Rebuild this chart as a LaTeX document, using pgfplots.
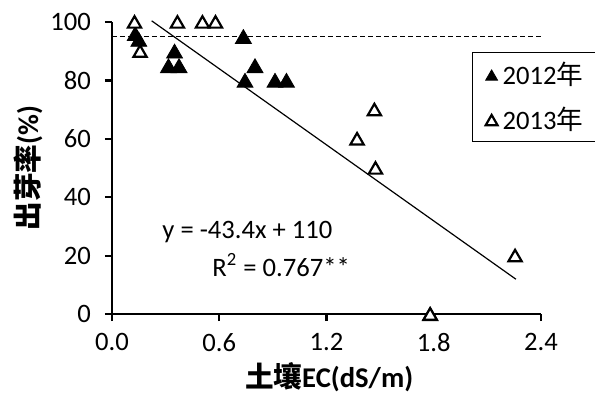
\documentclass[border=0pt]{standalone}
\usepackage{fontspec}
\setmainfont{Carlito}
\newfontfamily\cjk{Noto Sans CJK SC}
\usepackage{pgfplots}
\pgfplotsset{compat=1.18}
\newcommand{\fs}{\fontsize{13.3}{16}\selectfont}
\begin{document}
\begin{tikzpicture}
\begin{axis}[
  at={(0,0)}, anchor=south west,
  scale only axis, width=214.5pt, height=146pt,
  xmin=0, xmax=2.4, ymin=0, ymax=100,
  axis x line=bottom, axis y line=left,
  axis line style={-, line width=1.1pt},
  xtick={0,0.6,1.2,1.8,2.4}, xticklabels={0.0,0.6,1.2,1.8,2.4},
  ytick={0,20,40,60,80,100},
  tick align=outside, major tick length=3.5pt,
  tick style={line width=1.1pt, black},
  ticklabel style={font=\fs},
  yticklabel style={xshift=-3.5pt},
  xticklabel style={yshift=-2.5pt},
  /pgf/number format/assume math mode=true,
  clip=false,
  xlabel={{\cjk\bfseries 土壤}\textbf{EC(dS/m)}},
  ylabel={{\cjk\bfseries 出芽率}\textbf{(\%)}},
  xlabel style={at={(axis description cs:0.506,-0.216)}, anchor=center, font=\fontsize{14.3}{17}\selectfont},
  ylabel style={at={(axis description cs:-0.196,0.5)}, anchor=center, font=\fontsize{14.3}{17}\selectfont},
  legend style={at={(axis description cs:0.839,0.897)}, anchor=north west, draw=black, line width=0.7pt, font=\fs, row sep=6pt, inner xsep=0pt, inner ysep=2.5pt},
  legend cell align=left,
  legend image code/.code={\path[draw=none, fill=none] (0pt,-2pt) rectangle (13pt,2pt); \path[#1, mark size=3.4pt] plot coordinates {(9.5pt,0pt)};},
]
\addplot[only marks, mark=triangle*, mark size=4.6pt, mark options={fill=black, draw=black, line width=0.4pt, yshift=-1.1pt}]
coordinates {
(0.13,96) (0.15,94) (0.35,90) (0.316,85) (0.375,85) (0.735,95) (0.80,85) (0.744,80) (0.912,80) (0.976,80) (1.78,0)
};
\addlegendentry{2012{\cjk 年}\rule{14pt}{0pt}}
\addplot[only marks, mark=triangle*, mark size=3.8pt, mark options={draw=black, fill=white, line width=1.1pt, solid, yshift=-0.9pt}]
coordinates {
(0.126,100) (0.157,90) (0.366,100) (0.506,100) (0.579,100) (1.468,70) (1.371,60) (1.474,50) (1.78,0) (2.255,20)
};
\addlegendentry{2013{\cjk 年}\rule{14pt}{0pt}}
\addplot[black, line width=0.6pt, forget plot] coordinates {(0.222,100.4) (2.26,11.9)};
\addplot[black, line width=0.5pt, dash pattern=on 2.5pt off 1.5pt, forget plot] coordinates {(0,95) (2.4,95)};
\node[anchor=west, font=\fs, inner sep=0pt] at (axis cs:0.28,28) {y = -43.4x + 110};
\node[anchor=west, font=\fs, inner sep=0pt] at (axis cs:0.56,16.8) {R\textsuperscript{2} = 0.767**};
\end{axis}
\pgfresetboundingbox
\path (-56pt,-39pt) rectangle (241.5pt,157pt);
\end{tikzpicture}
\end{document}
